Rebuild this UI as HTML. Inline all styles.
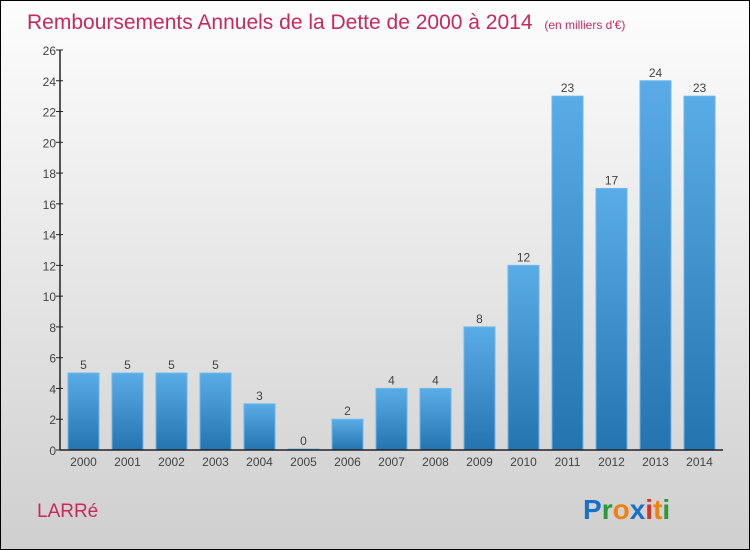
<!DOCTYPE html>
<html><head><meta charset="utf-8"><style>
body{margin:0}
#c{position:relative;width:748px;height:548px;border:1px solid #000;background:linear-gradient(#fdfdfd,#cfcfcf);font-family:"Liberation Sans",sans-serif;overflow:hidden}
</style></head><body>
<div id="c">
<svg width="748" height="548" id="s" style="position:absolute;left:0;top:0">
<defs><linearGradient id="g" x1="0" y1="0" x2="0" y2="1"><stop offset="0" stop-color="#5aace6"/><stop offset="1" stop-color="#2474b0"/></linearGradient></defs>
<text x="26" y="28" font-size="21" fill="#c8285a">Remboursements Annuels de la Dette de 2000 à 2014 <tspan font-size="12" dx="6">(en milliers d'€)</tspan></text>
<text x="36" y="516" font-size="19" fill="#c8285a">LARRé</text>
<text x="582" y="518" font-size="28" font-weight="bold"><tspan fill="#1a6fc8">P</tspan><tspan fill="#2a9a3a">r</tspan><tspan fill="#f08010">o</tspan><tspan fill="#1a6fc8">x</tspan><tspan fill="#e03020">i</tspan><tspan fill="#f08010">t</tspan><tspan fill="#2a9a3a">i</tspan></text>
<g id="plot"></g>
</svg>
</div>
<script>
const categories=["2000","2001","2002","2003","2004","2005","2006","2007","2008","2009","2010","2011","2012","2013","2014"];
const values=[5,5,5,5,3,0,2,4,4,8,12,23,17,24,23];
const yTicks=[0,2,4,6,8,10,12,14,16,18,20,22,24,26];
const ns="http://www.w3.org/2000/svg";
const g=document.getElementById('plot');
const y0=449,yTop=49,yMax=26,x0=59,step=44,bw=31;
const Y=v=>y0-(v/yMax)*(y0-yTop);
const X=i=>x0+23.5+i*step;
function mk(t,a){const e=document.createElementNS(ns,t);for(const k in a)e.setAttribute(k,a[k]);g.appendChild(e);return e;}
yTicks.forEach(v=>{
 const l=mk('line',{x1:x0-4,x2:x0+3,y1:Y(v),y2:Y(v),stroke:'#222'});
 
 
 const t=mk('text',{x:x0-4,y:Y(v)+5,'text-anchor':'end','font-size':12,fill:'#444'});
 t.textContent=v;
 
 
});
values.forEach((v,i)=>{
 const h=Math.max(y0-Y(v),1);
 const r=mk('rect',{x:X(i)-bw/2,y:y0-h,width:bw,height:h,fill:'url(#g)',stroke:'#6ab8ee','stroke-width':1});
 
 
 const t=mk('text',{x:X(i),y:y0-h-4,'text-anchor':'middle','font-size':12,fill:'#444'});
 t.textContent=v;
 
 
 const c=mk('text',{x:X(i),y:y0+16,'text-anchor':'middle','font-size':12,fill:'#444'});
 c.textContent=categories[i];
 
 
});
const ya=mk('line',{x1:x0,x2:x0,y1:yTop,y2:y0,stroke:'#222','stroke-width':1.5});


const xa=mk('line',{x1:x0,x2:722,y1:y0,y2:y0,stroke:'#222','stroke-width':1.5});


</script>
</body></html>
